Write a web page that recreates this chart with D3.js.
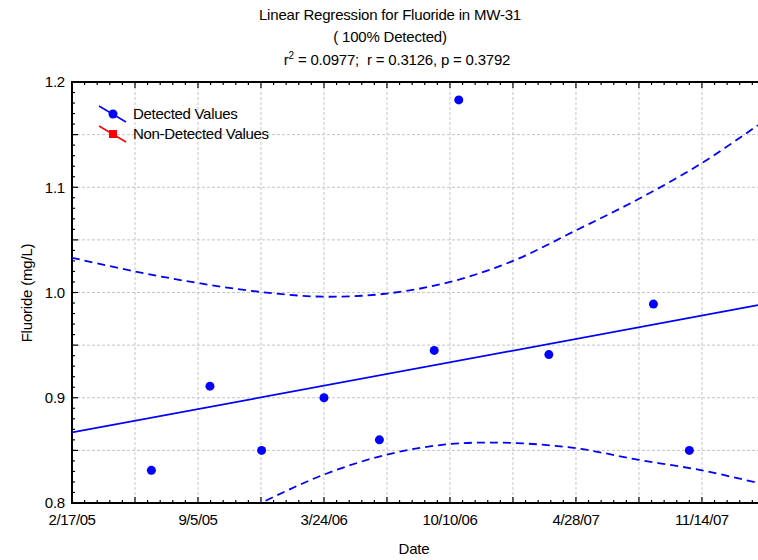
<!DOCTYPE html>
<html>
<head>
<meta charset="utf-8">
<script src="https://cdn.jsdelivr.net/npm/d3@7"></script>
<style>
  body { margin: 0; background: #fff; }
  svg { font-family: "Liberation Sans", Arial, sans-serif; }
</style>
</head>
<body>
<svg id="canvas"></svg>
<script>
// detected samples
const sampleDates = ["2005-06-23", "2005-09-24", "2005-12-15", "2006-03-24", "2006-06-20",
  "2006-09-15", "2006-10-24", "2007-03-16", "2007-08-29", "2007-10-25"];
const fluoride = [0.831, 0.911, 0.850, 0.900, 0.860, 0.945, 1.183, 0.941, 0.989, 0.850];

// regression line ends
const fitDates = ["2005-02-17", "2008-02-11"];
const fitValues = [0.867, 0.988];

// confidence band
const bandDates = ["2005-02-17", "2005-05-28", "2005-09-05", "2005-12-14", "2006-03-24", "2006-07-02",
  "2006-10-10", "2007-01-18", "2007-04-28", "2007-08-06", "2007-11-14", "2008-02-11"];
const bandUpper = [1.033, 1.020, 1.009, 1.0005, 0.996, 0.999, 1.010, 1.030, 1.059, 1.089, 1.123, 1.159];
const bandLower = [0.701, 0.735, 0.770, 0.800, 0.827, 0.846, 0.856, 0.857, 0.852, 0.841, 0.831, 0.819];

const yTickLabels = [0.8, 0.9, 1.0, 1.1, 1.2];
const legendItems = [
  { label: "Detected Values", color: "#0000ff", shape: "circle" },
  { label: "Non-Detected Values", color: "#ff0000", shape: "square" }
];

const width = 758;
const height = 560;
const margin = { top: 82, right: 0, bottom: 57, left: 72 };
const plotW = width - margin.left - margin.right;
const plotH = height - margin.top - margin.bottom;

const parse = d3.utcParse("%Y-%m-%d");
const fmt = d3.utcFormat("%-m/%-d/%y");
const start = parse("2005-02-17");
const end = parse("2008-02-11");

let canvas = d3.select("#canvas").attr("width", width).attr("height", height);

let x = d3.scaleUtc().domain([start, end]).range([margin.left, margin.left + plotW]);
let y = d3.scaleLinear().domain([0.8, 1.2]).range([margin.top + plotH, margin.top]);

canvas.append("defs").append("clipPath").attr("id", "clip")
  .append("rect")
  .attr("x", margin.left).attr("y", margin.top)
  .attr("width", plotW).attr("height", plotH);

// tick dates: every 20 days from start
let dayTicks = [];
for (let k = 0; ; k++) {
  let d = d3.utcDay.offset(start, k * 20);
  if (d > end) break;
  dayTicks.push({ date: d, k: k });
}
let gridDays = dayTicks.filter((t) => t.k % 5 === 0);
let labelDays = dayTicks.filter((t) => t.k % 10 === 0);

let yMinor = d3.range(0, 41).map((i) => 0.8 + i * 0.01);
let yGrid = d3.range(0, 9).map((i) => 0.8 + i * 0.05);

// grid
let grid = canvas.append("g").attr("stroke", "#c4c4c4").attr("stroke-dasharray", "3,2").attr("stroke-width", 1);
grid.selectAll(".gx").data(gridDays.slice(1)).enter().append("line")
  .attr("x1", (t) => x(t.date)).attr("x2", (t) => x(t.date))
  .attr("y1", margin.top).attr("y2", margin.top + plotH);
grid.selectAll(".gy").data(yGrid.slice(1, -1)).enter().append("line")
  .attr("x1", margin.left).attr("x2", margin.left + plotW)
  .attr("y1", (v) => y(v)).attr("y2", (v) => y(v));

// ticks (inward)
let ticks = canvas.append("g").attr("stroke", "#000").attr("stroke-width", 1.2);
ticks.selectAll(".tb").data(dayTicks).enter().append("line")
  .attr("x1", (t) => x(t.date)).attr("x2", (t) => x(t.date))
  .attr("y1", margin.top + plotH)
  .attr("y2", (t) => margin.top + plotH - (t.k % 5 === 0 ? 6 : 3));
ticks.selectAll(".tt").data(dayTicks).enter().append("line")
  .attr("x1", (t) => x(t.date)).attr("x2", (t) => x(t.date))
  .attr("y1", margin.top)
  .attr("y2", (t) => margin.top + (t.k % 5 === 0 ? 6 : 3));
ticks.selectAll(".tl").data(yMinor).enter().append("line")
  .attr("x1", margin.left)
  .attr("x2", (v, i) => margin.left + (i % 5 === 0 ? 6 : 3))
  .attr("y1", (v) => y(v)).attr("y2", (v) => y(v));

// frame
canvas.append("path")
  .attr("d", `M${margin.left + plotW},${margin.top}H${margin.left}V${margin.top + plotH}H${margin.left + plotW}`)
  .attr("fill", "none").attr("stroke", "#000").attr("stroke-width", 2);

// tick labels
canvas.append("g").selectAll("text").data(yTickLabels).enter().append("text")
  .attr("x", margin.left - 7).attr("y", (v) => y(v))
  .attr("dy", "0.35em").attr("text-anchor", "end")
  .attr("font-size", 15).attr("letter-spacing", -0.2)
  .text((v) => v.toFixed(1));

canvas.append("g").selectAll("text").data(labelDays).enter().append("text")
  .attr("x", (t) => x(t.date)).attr("y", margin.top + plotH + 22)
  .attr("text-anchor", "middle")
  .attr("font-size", 15).attr("letter-spacing", -0.45)
  .text((t) => fmt(t.date));

// axis titles
canvas.append("text").attr("x", 414).attr("y", 554).attr("text-anchor", "middle")
  .attr("font-size", 15).attr("letter-spacing", -0.2).text("Date");
canvas.append("text").attr("transform", "translate(32,293) rotate(-90)").attr("text-anchor", "middle")
  .attr("font-size", 15).attr("letter-spacing", -0.2).text("Fluoride (mg/L)");

// titles
let title = canvas.append("g").attr("text-anchor", "middle").attr("font-size", 15)
  .attr("letter-spacing", -0.2);
title.append("text").attr("x", 390).attr("y", 20).text("Linear Regression for Fluoride in MW-31");
title.append("text").attr("x", 390).attr("y", 42).text("( 100% Detected)");
let stats = title.append("text").attr("x", 397).attr("y", 65);
stats.append("tspan").text("r");
stats.append("tspan").attr("font-size", 10).attr("dy", -6).text("2");
stats.append("tspan").attr("dy", 6).text(" = 0.0977;\u00a0 r = 0.3126, p = 0.3792");

// fit and band
let plot = canvas.append("g").attr("clip-path", "url(#clip)");
let fitLine = d3.line().x((d) => x(d[0])).y((d) => y(d[1]));
let bandLine = d3.line().x((d) => x(d[0])).y((d) => y(d[1])).curve(d3.curveCatmullRom);

plot.append("path")
  .attr("d", fitLine(fitDates.map((d, i) => [parse(d), fitValues[i]])))
  .attr("fill", "none").attr("stroke", "#0000ff").attr("stroke-width", 1.8);

[bandUpper, bandLower].forEach((band) => {
  plot.append("path")
    .attr("d", bandLine(bandDates.map((d, i) => [parse(d), band[i]])))
    .attr("fill", "none").attr("stroke", "#0000ff").attr("stroke-width", 1.8)
    .attr("stroke-dasharray", "8,5");
});

plot.selectAll("circle").data(sampleDates).enter().append("circle")
  .attr("cx", (d) => x(parse(d)))
  .attr("cy", (d, i) => y(fluoride[i]))
  .attr("r", 4.5).attr("fill", "#0000ff");

// legend
let legend = canvas.append("g").selectAll("g").data(legendItems).enter().append("g")
  .attr("transform", (d, i) => `translate(113,${114 + i * 20})`);
legend.append("line")
  .attr("x1", -14).attr("y1", -8).attr("x2", 13).attr("y2", 8)
  .attr("stroke", (d) => d.color).attr("stroke-width", 1.5);
legend.filter((d) => d.shape === "circle").append("circle")
  .attr("r", 4.5).attr("fill", (d) => d.color);
legend.filter((d) => d.shape === "square").append("rect")
  .attr("x", -4).attr("y", -4).attr("width", 8).attr("height", 8).attr("fill", (d) => d.color);
legend.append("text").attr("x", 20).attr("dy", "0.35em")
  .attr("font-size", 15).attr("letter-spacing", -0.3)
  .text((d) => d.label);
</script>
</body>
</html>
